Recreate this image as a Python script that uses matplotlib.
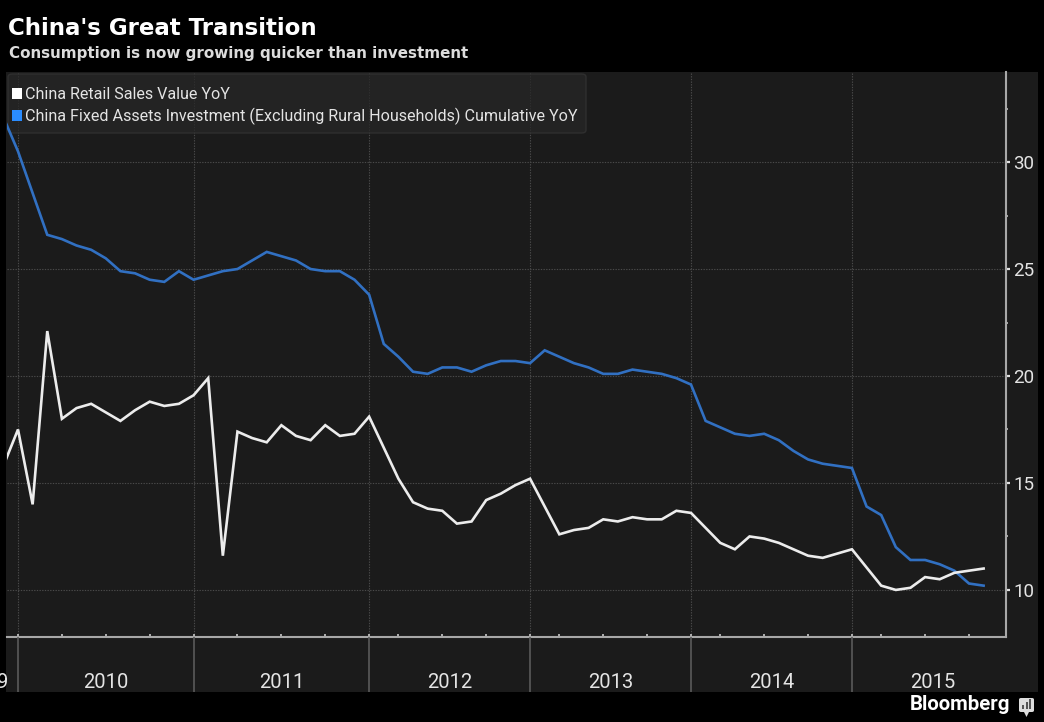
import numpy as np
import matplotlib
matplotlib.use("Agg")
import matplotlib.pyplot as plt
from matplotlib import font_manager
from matplotlib.patches import Rectangle, FancyBboxPatch, Polygon
from matplotlib.ticker import FixedLocator, MultipleLocator

# ---- data -----------------------------------------------------------------
# monthly observations; Jan is folded into Feb from 2012 on
periods = [
    "2009-11", "2009-12",
    "2010-01", "2010-02", "2010-03", "2010-04", "2010-05", "2010-06",
    "2010-07", "2010-08", "2010-09", "2010-10", "2010-11", "2010-12",
    "2011-01", "2011-02", "2011-03", "2011-04", "2011-05", "2011-06",
    "2011-07", "2011-08", "2011-09", "2011-10", "2011-11", "2011-12",
    "2012-02", "2012-03", "2012-04", "2012-05", "2012-06", "2012-07",
    "2012-08", "2012-09", "2012-10", "2012-11", "2012-12",
    "2013-02", "2013-03", "2013-04", "2013-05", "2013-06", "2013-07",
    "2013-08", "2013-09", "2013-10", "2013-11", "2013-12",
    "2014-02", "2014-03", "2014-04", "2014-05", "2014-06", "2014-07",
    "2014-08", "2014-09", "2014-10", "2014-11", "2014-12",
    "2015-02", "2015-03", "2015-04", "2015-05", "2015-06", "2015-07",
    "2015-08", "2015-09", "2015-10",
]

nan = np.nan
retail_sales = [
    15.8, 17.5,
    14.0, 22.1, 18.0, 18.5, 18.7, 18.3, 17.9, 18.4, 18.8, 18.6, 18.7, 19.1,
    19.9, 11.6, 17.4, 17.1, 16.9, 17.7, 17.2, 17.0, 17.7, 17.2, 17.3, 18.1,
    nan, 15.2, 14.1, 13.8, 13.7, 13.1, 13.2, 14.2, 14.5, 14.9, 15.2,
    nan, 12.6, 12.8, 12.9, 13.3, 13.2, 13.4, 13.3, 13.3, 13.7, 13.6,
    nan, 12.2, 11.9, 12.5, 12.4, 12.2, 11.9, 11.6, 11.5, 11.7, 11.9,
    nan, 10.2, 10.0, 10.1, 10.6, 10.5, 10.8, 10.9, 11.0,
]

fixed_assets = [
    32.1, 30.5,
    nan, 26.6, 26.4, 26.1, 25.9, 25.5, 24.9, 24.8, 24.5, 24.4, 24.9, 24.5,
    nan, 24.9, 25.0, 25.4, 25.8, 25.6, 25.4, 25.0, 24.9, 24.9, 24.5, 23.8,
    21.5, 20.9, 20.2, 20.1, 20.4, 20.4, 20.2, 20.5, 20.7, 20.7, 20.6,
    21.2, 20.9, 20.6, 20.4, 20.1, 20.1, 20.3, 20.2, 20.1, 19.9, 19.6,
    17.9, 17.6, 17.3, 17.2, 17.3, 17.0, 16.5, 16.1, 15.9, 15.8, 15.7,
    13.9, 13.5, 12.0, 11.4, 11.4, 11.2, 10.9, 10.3, 10.2,
]

years = ["2010", "2011", "2012", "2013", "2014", "2015"]
y_ticks = [10, 15, 20, 25, 30]

title = "China's Great Transition"
subtitle = "Consumption is now growing quicker than investment"
series_names = [
    "China Retail Sales Value YoY",
    "China Fixed Assets Investment (Excluding Rural Households) Cumulative YoY",
]

# ---- styling ----------------------------------------------------------------
W, H, DPI = 1044, 722, 100
PANEL = "#1b1b1b"
GRID = "#4a4a4a"
WHITE_LINE = "#ececec"
BLUE_LINE = "#3170c2"
TEXT = "#e4e4e4"

installed = {f.name for f in font_manager.fontManager.ttflist}
if "Liberation Sans Narrow" in installed:
    NARROW = dict(fontfamily="Liberation Sans Narrow")
elif "Roboto" in installed:
    NARROW = dict(fontfamily="Roboto")
else:
    NARROW = dict(fontfamily="DejaVu Sans", fontstretch="condensed")

fig = plt.figure(figsize=(W / DPI, H / DPI), dpi=DPI, facecolor="black")


def fx(px):
    return px / W


def fy(py):
    return 1 - py / H


def fit_width(t, width_px):
    r = fig.canvas.get_renderer()
    w = t.get_window_extent(renderer=r).width
    t.set_fontsize(t.get_fontsize() * width_px / w)


# dark panel behind the chart and the year band
fig.patches.append(Rectangle((fx(6), fy(692)), fx(1038 - 6), (692 - 72) / H,
                             transform=fig.transFigure, facecolor=PANEL,
                             edgecolor="none", zorder=-10))

# ---- x positions: one slot per observation, Dec 2009 at 0 --------------------
pos = np.arange(len(periods)) - 1.0
rs = np.array(retail_sales, dtype=float)
fa = np.array(fixed_assets, dtype=float)

dec_pos = [p for p, s in zip(pos, periods) if s.endswith("-12")]
quarter_pos = [p for p, s in zip(pos, periods) if s[5:] in ("03", "06", "09", "12")]

X_LEFT, X_RIGHT = -0.752, 67.53

# ---- main plot --------------------------------------------------------------
ax = fig.add_axes([fx(7), fy(637), fx(1006 - 7), (637 - 72) / H])
ax.set_facecolor(PANEL)
ax.set_xlim(X_LEFT, X_RIGHT)
ax.set_ylim(7.80, 34.21)

for v in y_ticks:
    ax.axhline(v, color=GRID, lw=0.8, ls=(0, (1.2, 1.2)), zorder=1)
for p in dec_pos:
    ax.axvline(p, color=GRID, lw=0.8, ls=(0, (1.2, 1.2)), zorder=1)

m = ~np.isnan(rs)
ax.plot(pos[m], rs[m], color=WHITE_LINE, lw=1.9, zorder=4, solid_joinstyle="miter")
m = ~np.isnan(fa)
ax.plot(pos[m], fa[m], color=BLUE_LINE, lw=1.9, zorder=3, solid_joinstyle="miter")

for side in ("top", "left"):
    ax.spines[side].set_visible(False)
for side in ("right", "bottom"):
    ax.spines[side].set_color("#a8a8a8")
    ax.spines[side].set_linewidth(1.5)

ax.yaxis.tick_right()
ax.yaxis.set_major_locator(FixedLocator(y_ticks))
ax.yaxis.set_minor_locator(MultipleLocator(2.5))
ax.tick_params(axis="y", which="major", direction="out", length=3, width=1.6,
               color="#e0e0e0", labelcolor=TEXT, labelsize=13.5, pad=2)
ax.tick_params(axis="y", which="minor", direction="out", length=1.5, width=1.2,
               color="#bdbdbd")
for lbl in ax.get_yticklabels():
    lbl.set(**NARROW)

ax.xaxis.set_major_locator(FixedLocator(quarter_pos))
ax.tick_params(axis="x", which="major", direction="in", length=2.5, width=1.2,
               color="#c8c8c8", labelbottom=False)

# legend box (translucent, gridlines show through)
ax.add_patch(FancyBboxPatch((fx(8), fy(133)), fx(586 - 8), (133 - 74) / H,
                            boxstyle="round,pad=0,rounding_size=0.004",
                            transform=fig.transFigure, facecolor="#262626",
                            edgecolor="#343434", lw=1.0, alpha=0.75, zorder=2,
                            clip_on=False))
for i, (name, col) in enumerate(zip(series_names, ["#ffffff", "#2a8cff"])):
    base = 99 + 22 * i
    ax.add_patch(Rectangle((fx(12), fy(base)), fx(10), 11 / H,
                           transform=fig.transFigure, facecolor=col,
                           edgecolor="none", zorder=5, clip_on=False))
legend_texts = []
for i, name in enumerate(series_names):
    t = fig.text(fx(25), fy(99 + 22 * i), name, color=TEXT, fontsize=12.5,
                 ha="left", va="baseline", **NARROW)
    legend_texts.append(t)
fit_width(legend_texts[1], 553)
legend_texts[0].set_fontsize(legend_texts[1].get_fontsize())

# ---- year band ----------------------------------------------------------------
band = fig.add_axes([fx(0), fy(692), fx(1038), 55 / H])
band.set_facecolor("none")
band.set_xlim(-18 / 14.63, (1038 - 18) / 14.63)
band.set_ylim(0, 1)
band.axis("off")
for p in dec_pos:
    band.axvline(p, color="#5a5a5a", lw=1.2)
bounds = dec_pos + [dec_pos[-1] + 11]
for yr, a, b in zip(years, bounds[:-1], bounds[1:]):
    band.text((a + b) / 2, 4 / 55, yr, color=TEXT, fontsize=14.5,
              ha="center", va="baseline", **NARROW)
band.text(-1.23 + 8 / 14.63, 4 / 55, "2009", color=TEXT, fontsize=14.5,
          ha="right", va="baseline", clip_on=True, **NARROW)

# ---- titles ---------------------------------------------------------------------
t = fig.text(fx(8), fy(35), title, color="white", fontsize=16, weight="bold",
             ha="left", va="baseline")
fit_width(t, 310)
t = fig.text(fx(9), fy(58), subtitle, color="#dcdcdc", fontsize=11,
             weight="bold", ha="left", va="baseline")
fit_width(t, 460)

# ---- source mark ----------------------------------------------------------------
t = fig.text(fx(1010), fy(710), "Bloomberg", color="white", fontsize=13,
             weight="bold", ha="right", va="baseline", **NARROW)
fit_width(t, 101)
fig.patches.append(FancyBboxPatch((fx(1019), fy(712)), fx(15), 14 / H,
                                  boxstyle="round,pad=0,rounding_size=0.002",
                                  transform=fig.transFigure,
                                  facecolor="#dddddd", edgecolor="none"))
fig.patches.append(Polygon([(fx(1024), fy(712)), (fx(1029), fy(712)),
                            (fx(1026.5), fy(717))], closed=True,
                           transform=fig.transFigure, facecolor="#dddddd",
                           edgecolor="none"))
for k, hgt in enumerate([4, 7, 10]):
    fig.patches.append(Rectangle((fx(1022 + 3.5 * k), fy(709)), fx(2), hgt / H,
                                 transform=fig.transFigure, facecolor="#555555",
                                 edgecolor="none"))

fig.savefig("out.png", dpi=DPI, facecolor="black")
